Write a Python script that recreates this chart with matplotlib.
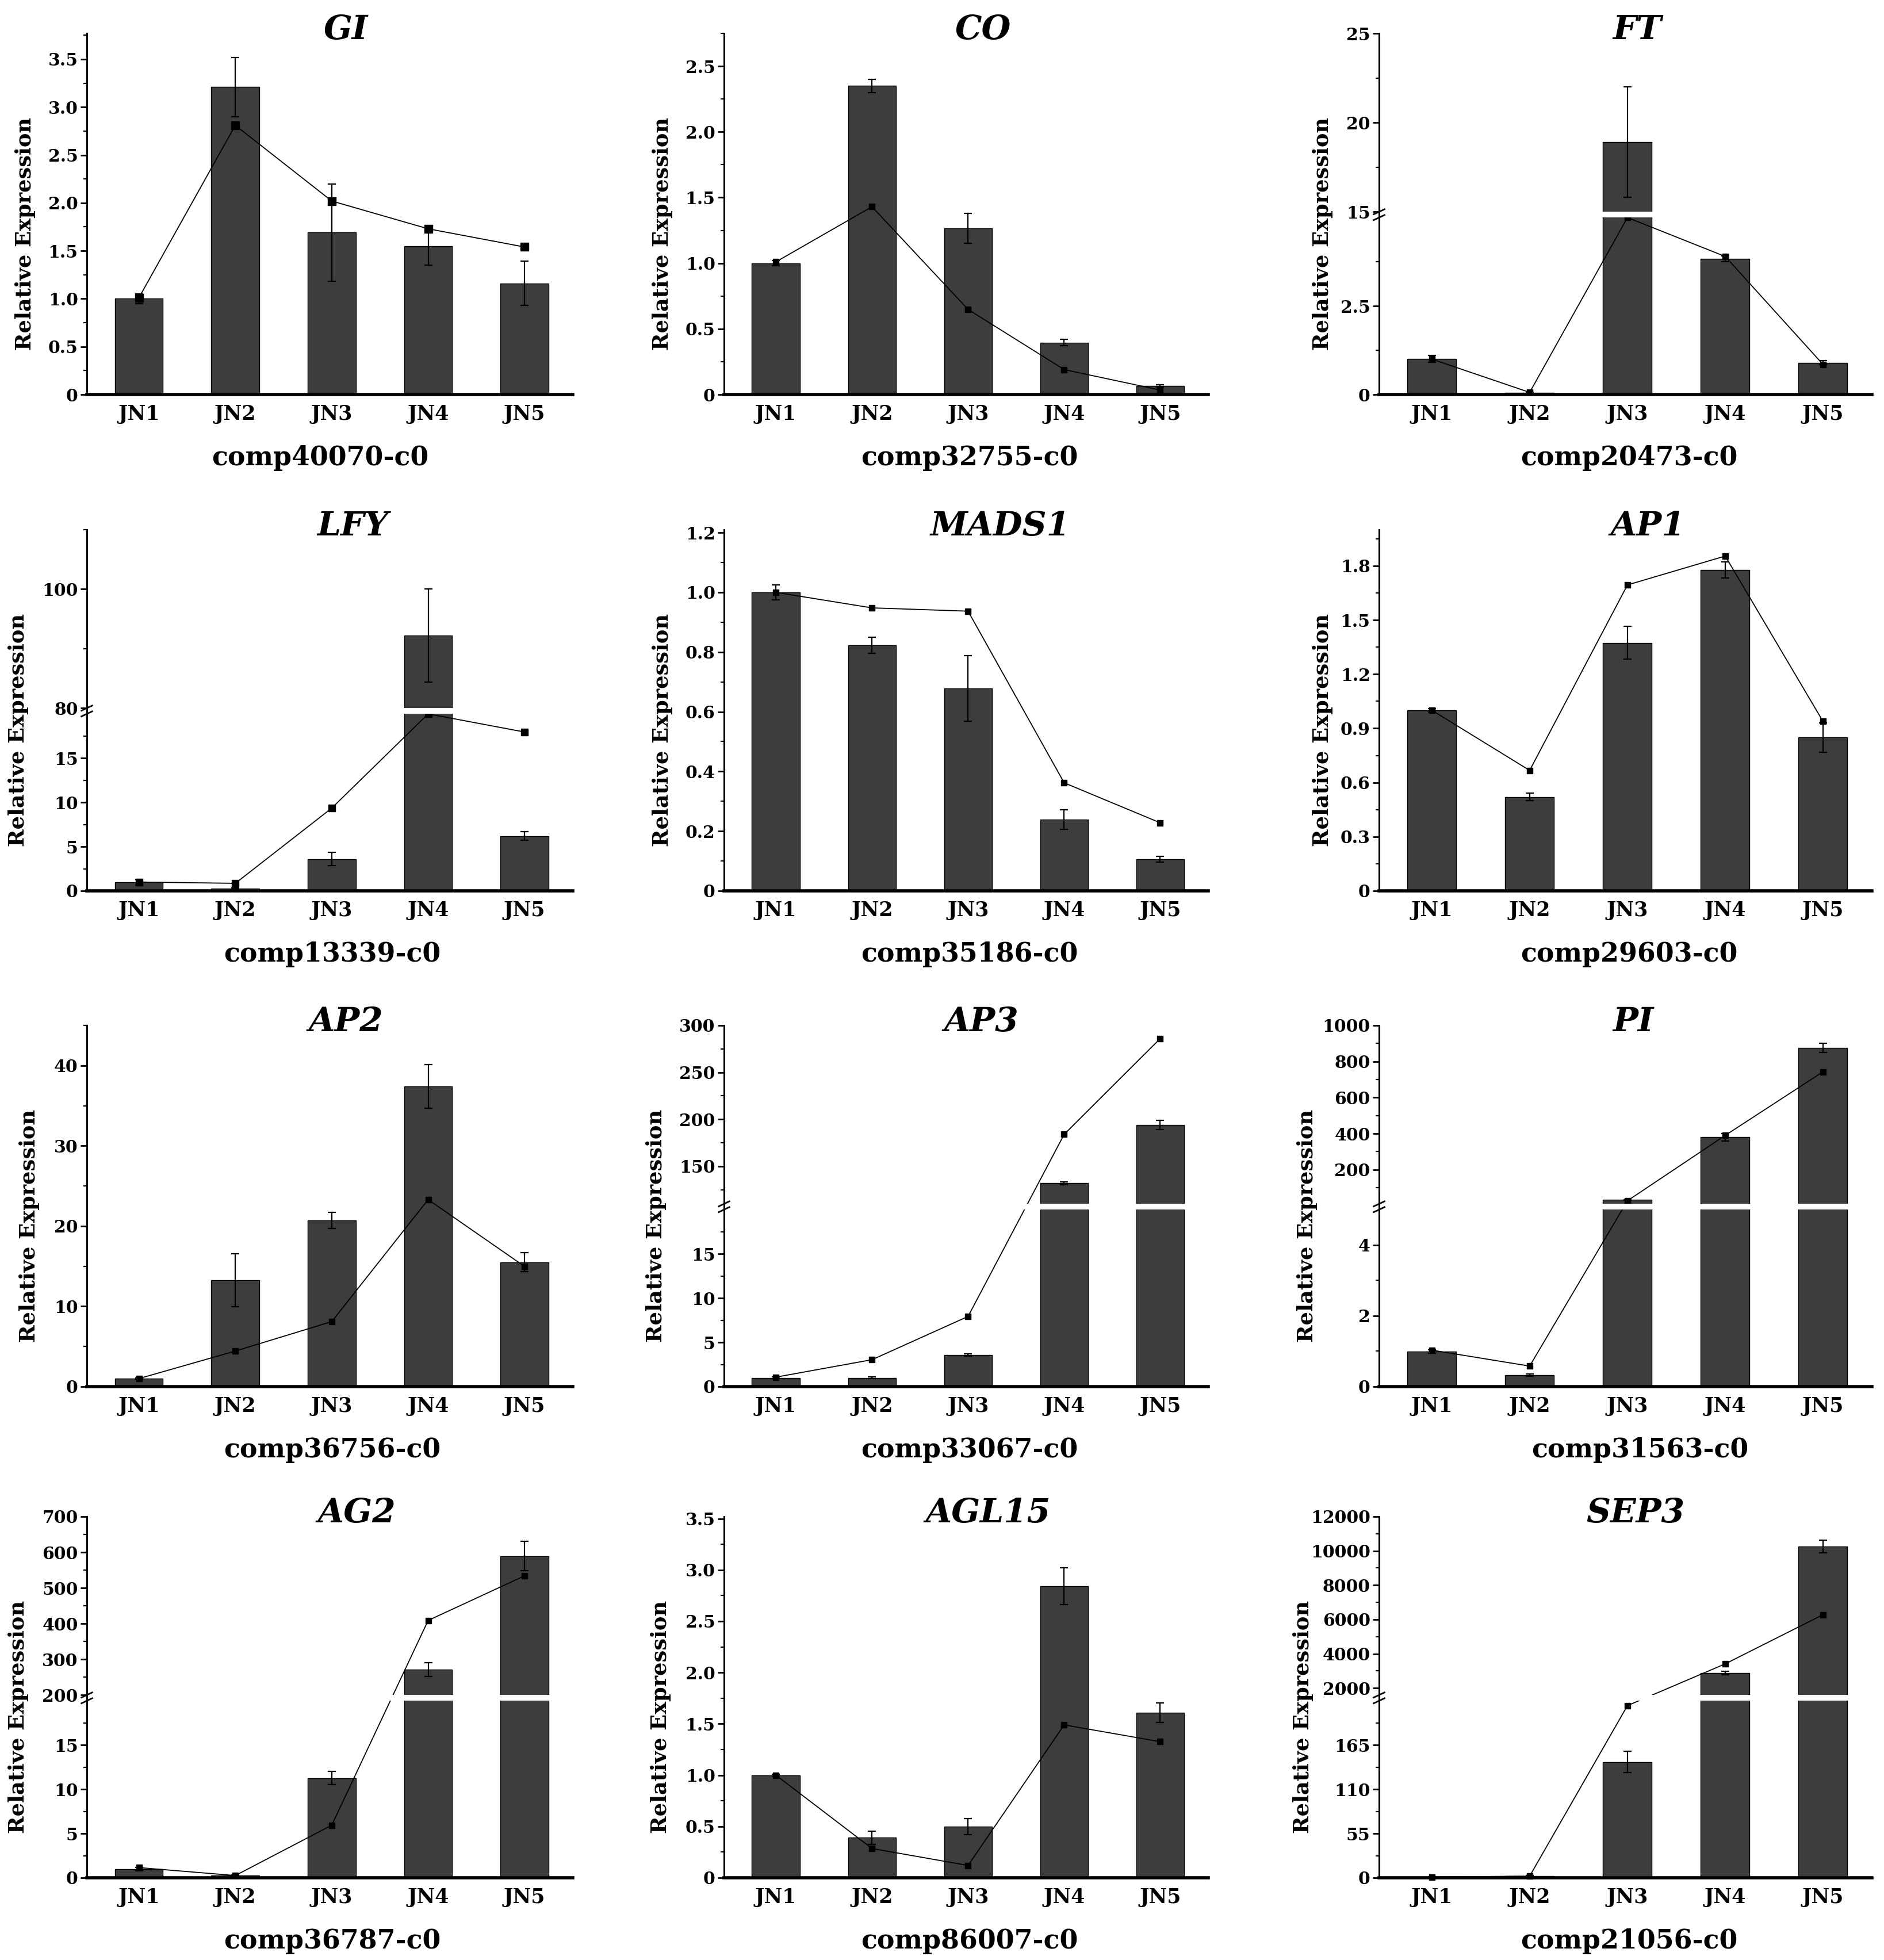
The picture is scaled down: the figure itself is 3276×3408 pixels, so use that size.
import numpy as np
import matplotlib
matplotlib.use("Agg")
import matplotlib.pyplot as plt
from matplotlib.transforms import offset_copy
from matplotlib.ticker import FixedLocator, MultipleLocator

plt.rcParams["font.family"] = ["DejaVu Serif"]
plt.rcParams["font.weight"] = "bold"

# ---------------- data ----------------
stages = ["JN1", "JN2", "JN3", "JN4", "JN5"]

gene_names = ["GI", "CO", "FT", "LFY", "MADS1", "AP1",
              "AP2", "AP3", "PI", "AG2", "AGL15", "SEP3"]
comp_ids = ["comp40070-c0", "comp32755-c0", "comp20473-c0",
            "comp13339-c0", "comp35186-c0", "comp29603-c0",
            "comp36756-c0", "comp33067-c0", "comp31563-c0",
            "comp36787-c0", "comp86007-c0", "comp21056-c0"]

# qRT-PCR relative expression (bars) and errors
gi_bar = [1.00, 3.21, 1.69, 1.55, 1.16]
gi_err = [0.05, 0.31, 0.51, 0.20, 0.23]
co_bar = [1.00, 2.35, 1.265, 0.396, 0.066]
co_err = [0.02, 0.05, 0.115, 0.025, 0.01]
ft_bar = [1.01, 0.05, 18.9, 3.83, 0.90]
ft_err = [0.10, 0.02, 3.1, 0.08, 0.06]
lfy_bar = [0.97, 0.25, 3.6, 92.2, 6.2]
lfy_err = [0.30, 0.05, 0.75, 7.8, 0.5]
mads1_bar = [1.00, 0.822, 0.678, 0.239, 0.106]
mads1_err = [0.025, 0.027, 0.11, 0.033, 0.01]
ap1_bar = [1.00, 0.52, 1.374, 1.777, 0.849]
ap1_err = [0.01, 0.02, 0.09, 0.045, 0.08]
ap2_bar = [1.0, 13.27, 20.7, 37.4, 15.5]
ap2_err = [0.1, 3.3, 1.0, 2.7, 1.2]
ap3_bar = [1.0, 1.0, 3.57, 132, 194]
ap3_err = [0.1, 0.1, 0.15, 1.5, 5]
pi_bar = [0.99, 0.33, 32, 380, 875]
pi_err = [0.05, 0.03, 2, 20, 26]
ag2_bar = [0.95, 0.25, 11.26, 271, 589]
ag2_err = [0.2, 0.05, 0.75, 19, 41]
agl15_bar = [1.0, 0.39, 0.5, 2.843, 1.61]
agl15_err = [0.01, 0.065, 0.077, 0.18, 0.095]
sep3_bar = [1.0, 2.5, 144, 2871, 10258]
sep3_err = [0.3, 0.5, 13, 100, 380]

# RNA-seq expression (line)
gi_line = [1.01, 2.81, 2.02, 1.73, 1.54]
co_line = [1.01, 1.43, 0.648, 0.19, 0.034]
ft_line = [1.0, 0.06, 5.0, 3.9, 0.85]
lfy_line = [1.0, 0.85, 9.35, 20.0, 17.95]
mads1_line = [1.0, 0.948, 0.937, 0.362, 0.228]
ap1_line = [1.0, 0.667, 1.694, 1.854, 0.938]
ap2_line = [1.0, 4.43, 8.1, 23.3, 14.97]
ap3_line = [1.07, 3.04, 7.93, 184, 286]
pi_line = [1.03, 0.58, 27, 390, 743]
ag2_line = [1.15, 0.25, 5.94, 409, 534]
agl15_line = [1.0, 0.285, 0.12, 1.49, 1.326]
sep3_line = [1.0, 2.0, 214, 3415, 6283]

# y axis: major ticks, minor ticks
gi_ticks = [0, 0.5, 1.0, 1.5, 2.0, 2.5, 3.0, 3.5]
co_ticks = [0, 0.5, 1.0, 1.5, 2.0, 2.5]
ft_ticks = [0, 2.5, 15, 20, 25]
lfy_ticks = [0, 5, 10, 15, 80, 100]
mads1_ticks = [0, 0.2, 0.4, 0.6, 0.8, 1.0, 1.2]
ap1_ticks = [0, 0.3, 0.6, 0.9, 1.2, 1.5, 1.8]
ap2_ticks = [0, 10, 20, 30, 40]
ap3_ticks = [0, 5, 10, 15, 150, 200, 250, 300]
pi_ticks = [0, 2, 4, 200, 400, 600, 800, 1000]
ag2_ticks = [0, 5, 10, 15, 200, 300, 400, 500, 600, 700]
agl15_ticks = [0, 0.5, 1.0, 1.5, 2.0, 2.5, 3.0, 3.5]
sep3_ticks = [0, 55, 110, 165, 2000, 4000, 6000, 8000, 10000, 12000]

ft_minor = [1.25, 3.75, 17.5, 22.5]
lfy_minor = [2.5, 7.5, 12.5, 17.5, 90, 110]
ap3_minor = [2.5, 7.5, 12.5, 17.5, 125, 175, 225, 275]
pi_minor = [1, 3, 100, 300, 500, 700, 900]
ag2_minor = [2.5, 7.5, 12.5, 17.5, 250, 350, 450, 550, 650]
sep3_minor = [27.5, 82.5, 137.5, 192.5, 3000, 5000, 7000, 9000, 11000]

panels = [
    dict(bar=gi_bar, err=gi_err, line=gi_line, top=3.77, brk=None, ticks=gi_ticks, minor=0.25, dec=1),
    dict(bar=co_bar, err=co_err, line=co_line, top=2.75, brk=None, ticks=co_ticks, minor=0.25, dec=1),
    dict(bar=ft_bar, err=ft_err, line=ft_line, top=25, brk=(5, 15), ticks=ft_ticks, minor=ft_minor, dec=None),
    dict(bar=lfy_bar, err=lfy_err, line=lfy_line, top=110, brk=(20, 80), ticks=lfy_ticks, minor=lfy_minor, dec=None),
    dict(bar=mads1_bar, err=mads1_err, line=mads1_line, top=1.21, brk=None, ticks=mads1_ticks, minor=0.1, dec=1),
    dict(bar=ap1_bar, err=ap1_err, line=ap1_line, top=2.0, brk=None, ticks=ap1_ticks, minor=0.15, dec=1),
    dict(bar=ap2_bar, err=ap2_err, line=ap2_line, top=45, brk=None, ticks=ap2_ticks, minor=5, dec=0),
    dict(bar=ap3_bar, err=ap3_err, line=ap3_line, top=300, brk=(20, 110), ticks=ap3_ticks, minor=ap3_minor, dec=None),
    dict(bar=pi_bar, err=pi_err, line=pi_line, top=1000, brk=(5, 10), ticks=pi_ticks, minor=pi_minor, dec=None),
    dict(bar=ag2_bar, err=ag2_err, line=ag2_line, top=700, brk=(20, 200), ticks=ag2_ticks, minor=ag2_minor, dec=None),
    dict(bar=agl15_bar, err=agl15_err, line=agl15_line, top=3.52, brk=None, ticks=agl15_ticks, minor=0.25, dec=1),
    dict(bar=sep3_bar, err=sep3_err, line=sep3_line, top=12000, brk=(220, 1600), ticks=sep3_ticks, minor=sep3_minor, dec=None),
]

# ---------------- layout / style ----------------
W, H = 3276, 3408
col_left_px = [151, 1259, 2398]
col_width_px = [845, 842, 857]
row_top_px = [58, 921, 1783, 2637]
row_h_px = 628
title_x = [0.533, 0.535, 0.524, 0.547, 0.57, 0.545, 0.533, 0.531, 0.516, 0.555, 0.546, 0.52]
comp_x = [0.48, 0.507, 0.507, 0.505, 0.507, 0.507, 0.505, 0.507, 0.53, 0.505, 0.507, 0.507]
ylab_off = [107, 107, 98, 119, 107, 98, 100, 118, 125, 119, 110, 132]
marker_size = [10, 7, 7, 8, 7, 7, 7, 7, 7, 7, 7, 7]
BAR_COLOR = "#3d3d3d"
FRAC, GAP = 0.49, 0.016


def make_scale(top, brk):
    if brk is None:
        def fwd(y):
            return np.asarray(y, float) / top

        def inv(t):
            return np.asarray(t, float) * top
        return fwd, inv
    b1, b2 = brk
    up = 1.0 - FRAC - GAP

    def fwd(y):
        y = np.asarray(y, float)
        return np.where(y <= b1, y / b1 * FRAC,
                        np.where(y < b2, FRAC + (y - b1) / (b2 - b1) * GAP,
                                 FRAC + GAP + (y - b2) / (top - b2) * up))

    def inv(t):
        t = np.asarray(t, float)
        return np.where(t <= FRAC, t / FRAC * b1,
                        np.where(t < FRAC + GAP, b1 + (t - FRAC) / GAP * (b2 - b1),
                                 b2 + (t - FRAC - GAP) / up * (top - b2)))
    return fwd, inv


def fmt_tick(v, dec):
    if v == 0:
        return "0"
    if dec is None:
        return "%g" % v
    return "%.*f" % (dec, v)


fig = plt.figure(figsize=(W / 100, H / 100), dpi=100)
x = np.arange(len(stages))

for i, p in enumerate(panels):
    r, c = divmod(i, 3)
    ax = fig.add_axes([col_left_px[c] / W, 1 - (row_top_px[r] + row_h_px) / H,
                       col_width_px[c] / W, row_h_px / H])
    fwd, inv = make_scale(p["top"], p["brk"])
    ax.set_yscale("function", functions=(fwd, inv))
    ax.set_ylim(0, p["top"])
    ax.set_xlim(-0.54, 4.5)

    ax.bar(x, p["bar"], width=0.5, color=BAR_COLOR, edgecolor="black",
           linewidth=1.0, zorder=2)
    ax.errorbar(x, p["bar"], yerr=p["err"], fmt="none", ecolor="black",
                elinewidth=1.6, capsize=5, capthick=1.6, zorder=3)
    ax.plot(x, p["line"], "-", color="black", lw=1.3, marker="s",
            ms=marker_size[i], zorder=4, clip_on=False)

    if p["brk"] is not None:
        b1, b2 = p["brk"]
        ax.axhspan(b1, b2, xmin=0.004, xmax=1.0, color="white", lw=0, zorder=4.5)
        for t in (FRAC, FRAC + GAP):
            ax.plot([-0.011, 0.011], [t - 0.007, t + 0.007], transform=ax.transAxes,
                    color="black", lw=2.0, clip_on=False, zorder=6)

    for s in ("top", "right"):
        ax.spines[s].set_visible(False)
    ax.spines["left"].set_linewidth(2.2)
    ax.spines["bottom"].set_linewidth(4.0)

    ax.set_yticks(p["ticks"])
    ax.set_yticklabels([fmt_tick(v, p["dec"]) for v in p["ticks"]])
    if isinstance(p["minor"], list):
        ax.yaxis.set_minor_locator(FixedLocator(p["minor"]))
    else:
        ax.yaxis.set_minor_locator(MultipleLocator(p["minor"]))
    ax.set_xticks(x)
    ax.set_xticklabels(stages)

    ax.tick_params(axis="y", which="major", direction="out", length=8, width=2.0,
                   pad=3, labelsize=21.5)
    ax.tick_params(axis="y", which="minor", direction="out", length=4.5, width=1.6)
    ax.tick_params(axis="x", which="both", length=0, pad=12, labelsize=25)
    for lab in ax.get_xticklabels() + ax.get_yticklabels():
        lab.set_fontweight("bold")

    ax.text(title_x[i], 1.0, gene_names[i],
            transform=offset_copy(ax.transAxes, fig=fig, x=0, y=6, units="dots"),
            ha="center", va="center", fontsize=42, fontstyle="italic",
            fontweight="bold")
    ax.text(comp_x[i], 0.0, comp_ids[i],
            transform=offset_copy(ax.transAxes, fig=fig, x=0, y=-110, units="dots"),
            ha="center", va="center", fontsize=33, fontweight="bold")
    ax.text(0.0, 0.445, "Relative Expression", rotation=90,
            transform=offset_copy(ax.transAxes, fig=fig, x=-ylab_off[i], y=0, units="dots"),
            ha="center", va="center", fontsize=26.5, fontweight="bold")

fig.savefig("out.png", dpi=100, facecolor="white")
